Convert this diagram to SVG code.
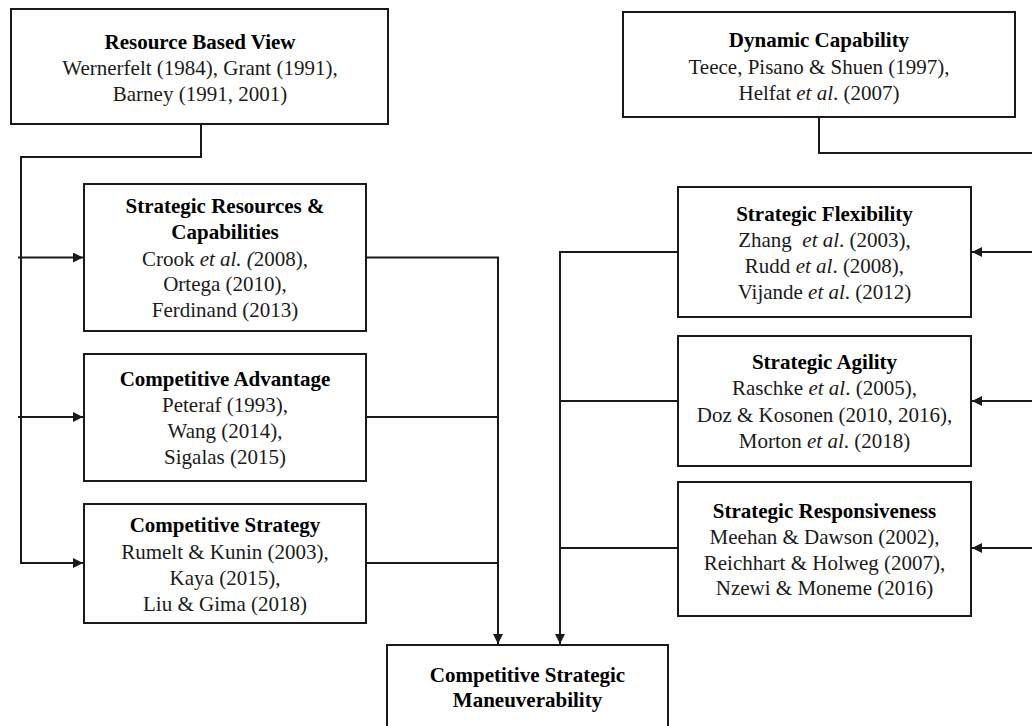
<svg xmlns="http://www.w3.org/2000/svg" width="1032" height="726" viewBox="0 0 1032 726">
<style>
.box{fill:#fff;stroke:#1a1a1a;stroke-width:2}
.t{font-family:"Liberation Serif","Times New Roman",serif;font-size:21px;fill:#1a1a1a;text-anchor:middle;white-space:pre}
.b{font-weight:bold;fill:#000}
.i{font-style:italic}
.c{fill:none;stroke:#1a1a1a;stroke-width:2}
</style>
<defs>
<marker id="ah" viewBox="0 0 10 10" refX="10" refY="5" markerWidth="5" markerHeight="5" orient="auto" markerUnits="strokeWidth">
<path d="M0,0 L10,5 L0,10 Z" fill="#1a1a1a"/>
</marker>
</defs>
<rect width="1032" height="726" fill="#fff"/>
<g id="connectors">
<polyline class="c" points="201,124 201,157 21,157 21,563"/>
<line class="c" x1="18" y1="257.5" x2="83" y2="257.5" marker-end="url(#ah)"/>
<line class="c" x1="18" y1="417" x2="83" y2="417" marker-end="url(#ah)"/>
<line class="c" x1="20" y1="563" x2="83" y2="563" marker-end="url(#ah)"/>
<polyline class="c" points="366,257.5 498,257.5 498,644" marker-end="url(#ah)"/>
<line class="c" x1="366" y1="417" x2="498" y2="417"/>
<line class="c" x1="366" y1="563" x2="498" y2="563"/>
<polyline class="c" points="678,252 560,252 560,644" marker-end="url(#ah)"/>
<line class="c" x1="678" y1="401" x2="560" y2="401"/>
<line class="c" x1="678" y1="548" x2="560" y2="548"/>
<polyline class="c" points="819,117 819,153 1034,153"/>
<line class="c" x1="1034" y1="252" x2="972" y2="252" marker-end="url(#ah)"/>
<line class="c" x1="1034" y1="401" x2="972" y2="401" marker-end="url(#ah)"/>
<line class="c" x1="1034" y1="548" x2="972" y2="548" marker-end="url(#ah)"/>
</g>
<g id="rbv">
<rect class="box" x="11" y="9" width="377" height="115"/>
<text class="t b" x="200" y="49">Resource Based View</text>
<text class="t" x="200" y="75">Wernerfelt (1984), Grant (1991),</text>
<text class="t" x="200" y="101">Barney (1991, 2001)</text>
</g>
<g id="dc">
<rect class="box" x="623" y="12" width="392" height="105"/>
<text class="t b" x="819" y="47">Dynamic Capability</text>
<text class="t" x="819" y="74">Teece, Pisano &amp; Shuen (1997),</text>
<text class="t" x="819" y="100">Helfat <tspan class="i">et al</tspan>. (2007)</text>
</g>
<g id="src">
<rect class="box" x="84" y="184" width="282" height="147"/>
<text class="t b" x="225" y="213">Strategic Resources &amp;</text>
<text class="t b" x="225" y="239">Capabilities</text>
<text class="t" x="225" y="265.5">Crook <tspan class="i">et al. (</tspan>2008),</text>
<text class="t" x="225" y="291">Ortega (2010),</text>
<text class="t" x="225" y="316.5">Ferdinand (2013)</text>
</g>
<g id="ca">
<rect class="box" x="84" y="354" width="282" height="127"/>
<text class="t b" x="225" y="385.5">Competitive Advantage</text>
<text class="t" x="225" y="412">Peteraf (1993),</text>
<text class="t" x="225" y="438">Wang (2014),</text>
<text class="t" x="225" y="464">Sigalas (2015)</text>
</g>
<g id="cs">
<rect class="box" x="84" y="504" width="282" height="119"/>
<text class="t b" x="225" y="532">Competitive Strategy</text>
<text class="t" x="225" y="559">Rumelt &amp; Kunin (2003),</text>
<text class="t" x="225" y="584.5">Kaya (2015),</text>
<text class="t" x="225" y="610.5">Liu &amp; Gima (2018)</text>
</g>
<g id="sf">
<rect class="box" x="678" y="187" width="293" height="130"/>
<text class="t b" x="824.5" y="221">Strategic Flexibility</text>
<text class="t" x="824.5" y="246.5">Zhang  <tspan class="i">et al</tspan>. (2003),</text>
<text class="t" x="824.5" y="272.5">Rudd <tspan class="i">et al</tspan>. (2008),</text>
<text class="t" x="824.5" y="298.5">Vijande <tspan class="i">et al</tspan>. (2012)</text>
</g>
<g id="sa">
<rect class="box" x="678" y="336" width="293" height="130"/>
<text class="t b" x="824.5" y="369">Strategic Agility</text>
<text class="t" x="824.5" y="395">Raschke <tspan class="i">et al</tspan>. (2005),</text>
<text class="t" x="824.5" y="421.5">Doz &amp; Kosonen (2010, 2016),</text>
<text class="t" x="824.5" y="447.5">Morton <tspan class="i">et al</tspan>. (2018)</text>
</g>
<g id="sr">
<rect class="box" x="678" y="482" width="293" height="134"/>
<text class="t b" x="824.5" y="517.5">Strategic Responsiveness</text>
<text class="t" x="824.5" y="544">Meehan &amp; Dawson (2002),</text>
<text class="t" x="824.5" y="569.5">Reichhart &amp; Holweg (2007),</text>
<text class="t" x="824.5" y="595">Nzewi &amp; Moneme (2016)</text>
</g>
<g id="csm">
<rect class="box" x="387" y="645" width="281" height="100"/>
<text class="t b" x="527.5" y="681.5">Competitive Strategic</text>
<text class="t b" x="527.5" y="707">Maneuverability</text>
</g>
</svg>
